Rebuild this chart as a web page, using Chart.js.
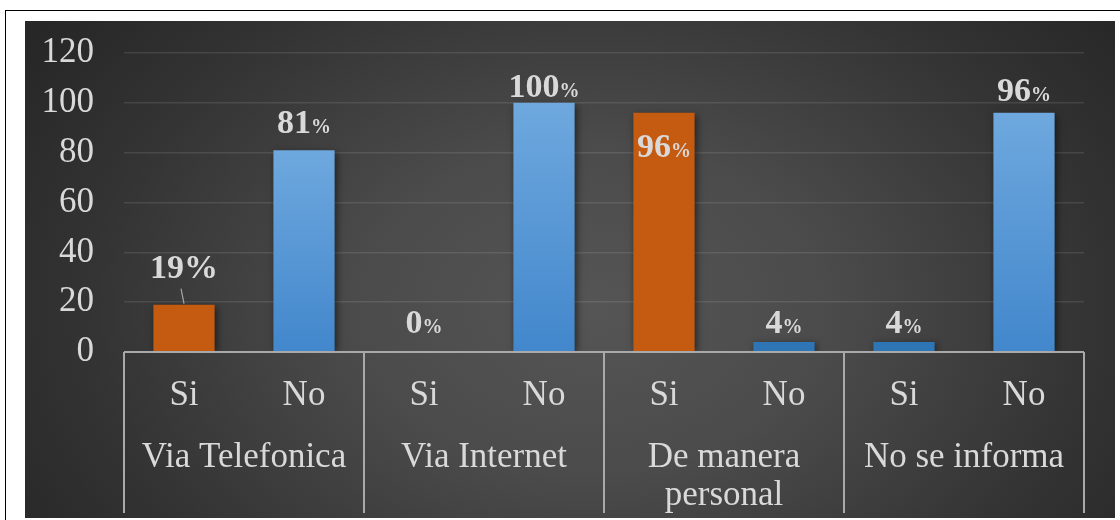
<!DOCTYPE html>
<html>
<head>
<meta charset="utf-8">
<script src="https://cdn.jsdelivr.net/npm/chart.js@4.4.1/dist/chart.umd.min.js"></script>
<style>
  html, body { margin: 0; padding: 0; background: #ffffff; }
  body { width: 1120px; height: 520px; position: relative; overflow: hidden; }
  #frame {
    position: absolute; left: 5px; top: 10px; width: 1130px; height: 530px;
    border-top: 1.5px solid #000; border-left: 1.5px solid #000;
  }
  #panel {
    position: absolute; left: 25px; top: 21px; width: 1090px; height: 497px;
    background: radial-gradient(ellipse 62% 95% at 52% 58%, #555555 0%, #4b4b4b 35%, #333333 75%, #272727 100%);
  }
  #chart { display: block; }
</style>
</head>
<body>
<div id="frame"></div>
<div id="panel"><canvas id="chart" width="1090" height="497"></canvas></div>
<script>
// Answers per channel (Si / No), percentages
const answers = ['Si', 'No', 'Si', 'No', 'Si', 'No', 'Si', 'No'];
const groups = ['Via Telefonica', 'Via Internet', ['De manera', 'personal'], 'No se informa'];
const percents = [19, 81, 0, 100, 96, 4, 4, 96];
const yTicks = [0, 20, 40, 60, 80, 100, 120];

// Bar fills: orange or blue
const tones = ['orange', 'blue', 'blue', 'blue', 'orange', 'blue', 'blue', 'blue'];
// Label placement: distance of the text baseline above the bar top (negative = inside)
const labelRise = [27, 17, 19, 6, -44, 9, 9, 12];
// Size of the "%" sign relative to the number
const pctScale = [1, 0.6, 0.6, 0.6, 0.6, 0.6, 0.6, 0.6];

const SERIF = '"Liberation Serif", "Times New Roman", serif';
const TEXT = '#d9d9d9';
const LINE = '#a9a9a9';
const AXIS_FONT = 35;

function barFill(ctx) {
  const i = ctx.dataIndex;
  if (tones[i] === 'orange') return '#c55a11';
  const v = percents[i];
  const y = ctx.chart.scales && ctx.chart.scales.y;
  if (v < 10 || !y) return '#2e75b6';
  const top = y.getPixelForValue(v);
  const bot = y.getPixelForValue(0);
  const g = ctx.chart.ctx.createLinearGradient(0, top, 0, bot);
  g.addColorStop(0, '#6ea8de');
  g.addColorStop(1, '#4287cc');
  return g;
}

const barShadow = {
  id: 'barShadow',
  beforeDatasetDraw(chart) {
    const c = chart.ctx;
    c.save();
    c.shadowColor = 'rgba(0,0,0,0.5)';
    c.shadowBlur = 7;
    c.shadowOffsetX = 2;
    c.shadowOffsetY = 2;
  },
  afterDatasetDraw(chart) {
    chart.ctx.restore();
  }
};

const categoryBoxes = {
  id: 'categoryBoxes',
  afterDatasetsDraw(chart) {
    const c = chart.ctx;
    const x = chart.scales.x;
    const area = chart.chartArea;
    const bottom = chart.height - 5;
    c.save();
    c.strokeStyle = LINE;
    c.lineWidth = 2;
    // baseline of the category axis
    c.beginPath();
    c.moveTo(area.left, area.bottom);
    c.lineTo(area.right, area.bottom);
    c.stroke();
    // group separators
    const edges = [area.left];
    for (let g = 1; g < groups.length; g++) {
      edges.push((x.getPixelForValue(2 * g - 1) + x.getPixelForValue(2 * g)) / 2);
    }
    edges.push(area.right);
    edges.forEach(px => {
      c.beginPath();
      c.moveTo(px, area.bottom);
      c.lineTo(px, bottom);
      c.stroke();
    });
    // group names
    c.fillStyle = TEXT;
    c.font = AXIS_FONT + 'px ' + SERIF;
    c.textAlign = 'center';
    c.textBaseline = 'middle';
    groups.forEach((name, g) => {
      const cx = (x.getPixelForValue(2 * g) + x.getPixelForValue(2 * g + 1)) / 2;
      const lines = Array.isArray(name) ? name : [name];
      lines.forEach((ln, k) => c.fillText(ln, cx, area.bottom + 106 + k * 38));
    });
    c.restore();
  }
};

const valueLabels = {
  id: 'valueLabels',
  afterDatasetsDraw(chart) {
    const c = chart.ctx;
    const meta = chart.getDatasetMeta(0);
    c.save();
    c.fillStyle = TEXT;
    c.textBaseline = 'alphabetic';
    c.textAlign = 'left';
    meta.data.forEach((bar, i) => {
      const num = String(percents[i]);
      const numFont = 'bold 34px ' + SERIF;
      const pctFont = 'bold ' + Math.round(34 * pctScale[i]) + 'px ' + SERIF;
      c.font = numFont;
      const wn = c.measureText(num).width;
      c.font = pctFont;
      const wp = c.measureText('%').width;
      const left = bar.x - (wn + wp) / 2;
      const base = bar.y - labelRise[i];
      c.font = numFont;
      c.fillText(num, left, base);
      c.font = pctFont;
      c.fillText('%', left + wn, base);
      if (i === 0) {
        // leader line from the label to its bar
        c.strokeStyle = '#a6a6a6';
        c.lineWidth = 1.2;
        c.beginPath();
        c.moveTo(bar.x - 3, base + 11);
        c.lineTo(bar.x, bar.y - 1);
        c.stroke();
      }
    });
    c.restore();
  }
};

new Chart(document.getElementById('chart'), {
  type: 'bar',
  data: {
    labels: answers,
    datasets: [{
      data: percents,
      backgroundColor: barFill,
      borderWidth: 0,
      barPercentage: 0.51,
      categoryPercentage: 1
    }]
  },
  options: {
    responsive: false,
    animation: false,
    events: [],
    layout: { padding: { top: 32, right: 31, left: 0, bottom: 0 } },
    plugins: { legend: { display: false }, tooltip: { enabled: false } },
    scales: {
      x: {
        grid: { display: false },
        border: { display: false },
        ticks: { color: TEXT, font: { family: SERIF, size: AXIS_FONT }, padding: 15, maxRotation: 0 },
        afterFit(s) { s.height = 166; }
      },
      y: {
        min: 0, max: 120,
        afterBuildTicks(s) { s.ticks = yTicks.map(v => ({ value: v })); },
        grid: { color: 'rgba(255,255,255,0.1)', lineWidth: 1.5, drawTicks: false },
        border: { display: false },
        ticks: { color: TEXT, font: { family: SERIF, size: AXIS_FONT }, padding: 30 },
        afterFit(s) { s.width = 99; s.paddingTop = 0; s.paddingBottom = 0; }
      }
    }
  },
  plugins: [barShadow, valueLabels, categoryBoxes]
});
</script>
</body>
</html>
